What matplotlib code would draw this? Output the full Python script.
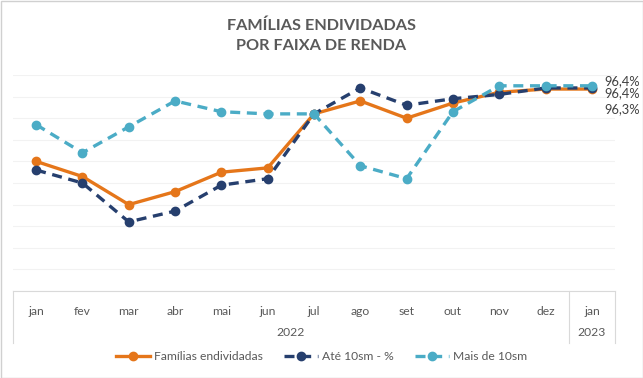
import numpy as np
import matplotlib.pyplot as plt
from matplotlib.lines import Line2D

plt.rcParams['font.family'] = ['Lato', 'DejaVu Sans']

# dados (escala do eixo oculto)
meses = ['jan', 'fev', 'mar', 'abr', 'mai', 'jun', 'jul', 'ago', 'set', 'out', 'nov', 'dez', 'jan']
anos = ['2022', '2023']
familias = [93.0, 92.3, 91.0, 91.6, 92.5, 92.7, 95.2, 95.8, 95.0, 95.7, 96.2, 96.35, 96.35]
ate_10sm = [92.6, 92.0, 90.2, 90.7, 91.9, 92.2, 95.2, 96.4, 95.6, 95.9, 96.1, 96.4, 96.4]
mais_10sm = [94.7, 93.4, 94.6, 95.8, 95.3, 95.2, 95.2, 92.8, 92.2, 95.3, 96.5, 96.5, 96.5]
rotulos = ['96,4%', '96,4%', '96,3%']

c_or = '#E5761A'
c_az = '#263F6E'
c_cl = '#4BACC6'
cinza = '#595959'

fig = plt.figure(figsize=(6.43, 3.78), dpi=100)
ax = fig.add_axes([13/643, 1 - 291/378, 602/643, 216/378])

x = np.arange(len(meses))
ax.plot(x, familias, color=c_or, lw=2.4, marker='o', ms=6, zorder=2)
ax.plot(x, ate_10sm, color=c_az, lw=2.4, ls=(0, (3, 2)), marker='o', ms=6, zorder=3)
ax.plot(x, mais_10sm, color=c_cl, lw=2.4, ls=(0, (3, 2)), marker='o', ms=6, zorder=4)

ax.set_xlim(-0.5, len(meses) - 0.5)
ax.set_ylim(87, 97)
ax.set_yticks(np.arange(87, 98, 1))
ax.grid(axis='y', color='#F2F2F2', lw=0.8)
ax.set_axisbelow(True)
ax.tick_params(left=False, bottom=False, labelleft=False, labelbottom=False)
for s in ['left', 'right', 'top']:
    ax.spines[s].set_visible(False)
ax.spines['bottom'].set_color('#D9D9D9')

# tabela de categorias (mes / ano)
tr = ax.get_xaxis_transform()
for i, m in enumerate(meses):
    ax.text(i, -0.093, m, transform=tr, ha='center', va='center', fontsize=8.7, color=cinza, clip_on=False)
ax.text(5.5, -0.194, anos[0], transform=tr, ha='center', va='center', fontsize=8.7, color=cinza)
ax.text(12, -0.194, anos[1], transform=tr, ha='center', va='center', fontsize=8.7, color=cinza)
for xv in [-0.5, 11.5, 12.5]:
    ax.plot([xv, xv], [0, -0.241], transform=tr, color='#D9D9D9', lw=0.8, clip_on=False)

# rotulos finais
for yy, t in zip([81, 93, 109], rotulos):
    fig.text(604/643, 1 - yy/378, t, ha='left', va='center', fontsize=9.3, color='#404040')

fig.text(0.5, 1 - 19/378, 'FAMÍLIAS ENDIVIDADAS\nPOR FAIXA DE RENDA', ha='center', va='top',
         fontsize=11.7, fontweight='bold', color=cinza, linespacing=1.52)

handles = [Line2D([], [], color=c_or, lw=2.4, marker='o', ms=6),
           Line2D([], [], color=c_az, lw=2.4, ls=(0, (3, 2)), marker='o', ms=6),
           Line2D([], [], color=c_cl, lw=2.4, ls=(0, (3, 2)), marker='o', ms=6)]
fig.legend(handles, ['Famílias endividadas', 'Até 10sm - %', 'Mais de 10sm'],
           loc='center', bbox_to_anchor=(0.5, 1 - 357/378), ncol=3, frameon=False,
           fontsize=8.7, handlelength=2.8, handletextpad=0.3, columnspacing=1.8,
           labelcolor=cinza)

fig.patches.append(plt.Rectangle((0.5/643, 0.5/378), 642/643, 377/378, transform=fig.transFigure,
                                 fill=False, edgecolor='#D0D0D0', lw=1))
fig.savefig('out.png', dpi=100)
